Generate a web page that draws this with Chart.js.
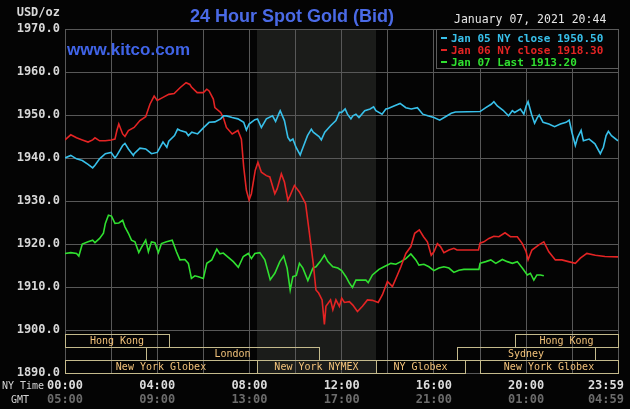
<!DOCTYPE html>
<html>
<head>
<meta charset="utf-8">
<script src="https://cdn.jsdelivr.net/npm/chart.js@4"></script>
<style>
  html, body { margin: 0; padding: 0; background: #040404; }
  canvas { display: block; }
</style>
</head>
<body>
<canvas id="gold-chart" width="630" height="409"></canvas>
<script>
// Data (minutes after midnight NY time, USD/oz)

const jan05Times = [0, 15, 30, 45, 60, 72, 78, 90, 105, 120, 130, 135, 150, 156, 165, 178, 180, 195, 210, 225, 240, 255, 265, 270, 285, 293, 300, 315, 321, 330, 345, 360,
  375, 390, 405, 412, 420, 435, 450, 465, 472, 479, 494, 501, 511, 524, 540, 548, 556, 560, 571, 580, 586, 593, 601, 612, 616, 631, 641, 646, 661, 667, 676, 691, 705, 714,
  720, 729, 735, 744, 749, 757, 765, 780, 794, 803, 809, 825, 835, 841, 856, 872, 887, 901, 917, 931, 944, 960, 975, 990, 1005, 1016, 1080,
  1095, 1109, 1116, 1125, 1140, 1154, 1164, 1170, 1185, 1194, 1200, 1205, 1214, 1222, 1229, 1234, 1244, 1259, 1274, 1289, 1304, 1312, 1319, 1328, 1334, 1343, 1349, 1364, 1379, 1393, 1401, 1408, 1414, 1422, 1439];
const jan05Prices = [1940.0, 1940.6, 1939.8, 1939.4, 1938.5, 1937.7, 1938.3, 1939.8, 1941.0, 1941.3, 1940.0, 1940.6, 1942.9, 1943.4, 1942.1, 1940.6, 1941.0, 1942.3, 1942.1, 1941.0, 1941.3, 1943.7, 1942.5, 1943.9, 1945.2, 1946.7, 1946.4, 1946.0, 1945.2, 1946.0, 1945.6, 1947.0,
  1948.3, 1948.4, 1949.1, 1949.8, 1949.8, 1949.4, 1949.1, 1948.3, 1946.5, 1947.9, 1948.9, 1949.1, 1947.1, 1949.1, 1949.8, 1948.5, 1950.2, 1951.0, 1948.7, 1944.8, 1944.0, 1944.4, 1942.5, 1940.7, 1941.7, 1945.2, 1946.7, 1946.0, 1945.0, 1944.2, 1946.0, 1947.5, 1948.7, 1950.6,
  1950.6, 1951.4, 1950.2, 1949.1, 1949.8, 1950.2, 1949.4, 1951.0, 1951.4, 1951.9, 1951.0, 1950.2, 1951.4, 1951.5, 1952.1, 1952.7, 1951.7, 1951.4, 1951.7, 1950.2, 1949.8, 1949.4, 1948.8, 1949.6, 1950.4, 1950.7, 1950.8,
  1951.7, 1952.5, 1953.1, 1952.1, 1951.1, 1949.8, 1951.0, 1950.6, 1951.4, 1950.2, 1952.1, 1953.1, 1950.2, 1948.1, 1949.4, 1950.0, 1948.3, 1947.9, 1947.3, 1947.9, 1948.3, 1948.8, 1946.0, 1942.9, 1944.8, 1946.4, 1944.0, 1944.4, 1943.3, 1941.0, 1942.5, 1945.2, 1946.2, 1945.2, 1944.0];

const jan06Times = [0, 15, 30, 45, 60, 72, 78, 90, 105, 120, 130, 135, 140, 150, 156, 165, 180, 195, 210, 221, 232, 240, 255, 270, 284, 300, 315, 325, 329, 344, 360,
  369, 375, 386, 390, 405, 412, 420, 435, 450, 459, 465, 472, 479, 485, 495, 502, 511, 524, 533, 546, 552, 563, 571, 580, 586, 597, 610, 626, 636, 646, 653, 660, 669, 675, 679, 691, 697, 705, 714,
  720, 727, 740, 749, 761, 774, 787, 800, 815, 826, 839, 852, 865, 874, 887, 900, 910, 922, 933, 943, 953, 960, 969, 977, 986, 999, 1012, 1020, 1076,
  1080, 1090, 1103, 1116, 1129, 1145, 1159, 1177, 1190, 1200, 1205, 1215, 1233, 1246, 1259, 1276, 1293, 1310, 1328, 1341, 1358, 1380, 1405, 1439];
const jan06Prices = [1944.2, 1945.4, 1944.7, 1944.2, 1943.7, 1944.2, 1944.7, 1944.0, 1944.0, 1944.2, 1944.4, 1946.4, 1947.9, 1945.6, 1945.0, 1946.4, 1947.1, 1948.7, 1949.6, 1952.5, 1954.4, 1953.4, 1954.1, 1954.8, 1955.0, 1956.4, 1957.5, 1957.1, 1956.5, 1955.2, 1955.2,
  1956.0, 1955.6, 1953.7, 1951.7, 1950.6, 1949.4, 1947.1, 1945.6, 1946.4, 1944.4, 1937.9, 1932.5, 1930.2, 1931.7, 1937.1, 1939.0, 1936.7, 1935.9, 1935.6, 1931.7, 1932.8, 1936.3, 1934.4, 1930.2, 1931.3, 1933.6, 1932.1, 1929.4, 1922.5, 1915.5, 1909.3, 1908.6, 1907.0, 1901.3, 1905.5, 1907.0, 1904.7, 1907.0, 1905.5,
  1907.4, 1906.4, 1906.6, 1905.8, 1904.3, 1905.5, 1907.0, 1906.9, 1906.4, 1908.2, 1911.3, 1910.1, 1912.8, 1914.7, 1917.8, 1919.4, 1922.5, 1923.3, 1921.7, 1920.5, 1917.4, 1918.2, 1920.1, 1919.4, 1918.0, 1918.6, 1919.0, 1918.6, 1918.6,
  1920.2, 1920.5, 1921.3, 1921.8, 1921.7, 1922.6, 1921.7, 1921.7, 1920.1, 1918.2, 1916.3, 1918.6, 1919.8, 1920.5, 1918.2, 1916.3, 1916.3, 1915.9, 1915.5, 1916.7, 1917.8, 1917.4, 1917.1, 1917.0];

const jan07Times = [0, 15, 30, 36, 45, 60, 72, 78, 90, 100, 105, 113, 121, 130, 140, 150, 156, 165, 173, 182, 192, 199, 210, 217, 225, 234, 243, 251, 264, 279, 290, 299, 312, 321, 329, 338, 347, 360,
  369, 382, 395, 403, 412, 425, 438, 451, 464, 477, 485, 494, 507, 520, 534, 546, 559, 569, 578, 586, 593, 602, 610, 619, 632, 645, 653, 664, 675, 684, 697, 710,
  720, 731, 740, 748, 757, 770, 783, 789, 800, 817, 830, 848, 861, 874, 887, 900, 913, 921, 934, 947, 960, 973, 986, 999, 1012, 1025, 1038, 1077,
  1080, 1095, 1108, 1121, 1138, 1151, 1164, 1177, 1190, 1203, 1211, 1220, 1228, 1237, 1246];
const jan07Prices = [1917.8, 1918.0, 1917.8, 1917.2, 1920.0, 1920.5, 1920.9, 1920.3, 1921.3, 1922.5, 1924.8, 1926.7, 1926.5, 1924.8, 1924.9, 1925.5, 1924.0, 1922.5, 1920.9, 1920.5, 1918.0, 1919.2, 1920.9, 1918.2, 1920.5, 1920.3, 1918.0, 1920.1, 1920.5, 1920.9, 1918.2, 1916.3, 1916.4, 1915.5, 1912.0, 1912.6, 1912.4, 1912.0,
  1915.5, 1916.3, 1918.8, 1917.7, 1917.9, 1916.9, 1915.9, 1914.6, 1917.1, 1917.8, 1916.6, 1917.8, 1918.0, 1916.3, 1911.7, 1913.2, 1915.9, 1917.2, 1914.4, 1909.3, 1912.4, 1912.7, 1915.5, 1914.4, 1911.5, 1914.4, 1914.7, 1915.9, 1917.4, 1915.9, 1914.7, 1914.4,
  1913.8, 1912.4, 1910.9, 1909.9, 1911.6, 1911.6, 1911.6, 1911.0, 1912.8, 1914.1, 1914.7, 1915.5, 1915.3, 1915.9, 1916.6, 1917.7, 1916.3, 1915.1, 1915.3, 1914.7, 1913.8, 1914.4, 1914.7, 1914.4, 1913.4, 1913.9, 1914.1, 1914.1,
  1915.5, 1915.9, 1916.3, 1915.5, 1916.4, 1915.9, 1915.5, 1915.9, 1914.4, 1912.8, 1913.2, 1911.6, 1912.8, 1912.8, 1912.6];

const legendLabels = ["Jan 05 NY close 1950.50", "Jan 06 NY close 1918.30", "Jan 07 Last 1913.20"];
const xTickMinutes = [0, 120, 240, 360, 480, 600, 720, 840, 960, 1080, 1200, 1320, 1439];
const xLabelMinutes = [0, 240, 480, 720, 960, 1200, 1439];
const gmtOffsetMinutes = 300;

// trading sessions strip at the bottom of the plot
const sessionNames = ["Hong Kong", "Hong Kong", "London", "Sydney", "New York Globex", "New York NYMEX", "NY Globex", "New York Globex"];
const sessionStart = [0, 1170, 210, 1020, 0, 500, 810, 1080];
const sessionEnd = [270, 1439, 660, 1380, 500, 810, 1040, 1439];
const sessionRow = [0, 0, 1, 1, 2, 2, 2, 2];
const nymexOpen = [500, 810];

const titleText = "24 Hour Spot Gold (Bid)";
const stampText = "January 07, 2021 20:44";

const COLORS = ["#38c0ea", "#e42424", "#30e030"];
const MONO = "'DejaVu Sans Mono', monospace";

const toPoints = (times, prices) => times.map((t, i) => ({ x: t, y: prices[i] }));
const hhmm = (m) => {
  m = ((m % 1440) + 1440) % 1440;
  return String(Math.floor(m / 60)).padStart(2, "0") + ":" + String(m % 60).padStart(2, "0");
};

const kitcoDecor = {
  id: "kitcoDecor",
  beforeDraw(chart) {
    const { ctx, chartArea: a, scales: { x } } = chart;
    ctx.save();
    ctx.fillStyle = "#040404";
    ctx.fillRect(0, 0, chart.width, chart.height);
    // NYMEX hours shading
    const x0 = Math.round(x.getPixelForValue(nymexOpen[0]));
    const x1 = Math.round(x.getPixelForValue(nymexOpen[1]));
    ctx.fillStyle = "#1b1c1a";
    ctx.fillRect(x0, a.top, x1 - x0, a.bottom - a.top);
    ctx.restore();
  },
  afterDraw(chart) {
    const { ctx, chartArea: a, scales: { x, y } } = chart;
    ctx.save();

    // sessions
    const rowTops = [1899, 1896, 1893, 1890];
    ctx.strokeStyle = "#c4ba8c";
    ctx.lineWidth = 1;
    ctx.font = "10px " + MONO;
    ctx.textAlign = "center";
    ctx.textBaseline = "middle";
    sessionNames.forEach((name, i) => {
      const r = sessionRow[i];
      const l = Math.round(x.getPixelForValue(sessionStart[i]));
      const rr = Math.round(x.getPixelForValue(sessionEnd[i]));
      const t = Math.round(y.getPixelForValue(rowTops[r]));
      const b = Math.round(y.getPixelForValue(rowTops[r + 1]));
      ctx.strokeRect(l + 0.5, t + 0.5, rr - l, b - t);
      ctx.fillStyle = "#f2c27a";
      ctx.fillText(name, (l + rr) / 2, (t + b) / 2 + 1);
    });

    // legend box
    const lx = a.right - 182, ly = a.top, lh = 39;
    ctx.fillStyle = "#040404";
    ctx.fillRect(lx, ly, a.right - lx, lh);
    ctx.strokeStyle = "#5c5c5c";
    ctx.strokeRect(lx + 0.5, ly + 0.5, a.right - lx, lh);
    ctx.font = "bold 11px " + MONO;
    ctx.textAlign = "left";
    legendLabels.forEach((label, i) => {
      const cy = ly + 9 + i * 12;
      ctx.fillStyle = COLORS[i];
      ctx.fillRect(lx + 5, cy - 1, 6, 2);
      ctx.fillText(label, lx + 15, cy + 1);
    });

    // x labels: NY time and GMT
    ctx.font = "bold 12px " + MONO;
    xLabelMinutes.forEach((m, i) => {
      const px = x.getPixelForValue(m);
      const last = i === xLabelMinutes.length - 1;
      ctx.textAlign = last ? "right" : "center";
      const tx = last ? chart.width - 6 : px;
      ctx.fillStyle = "#dcdcdc";
      ctx.fillText(m === 1439 ? "23:59" : hhmm(m), tx, a.bottom + 13);
      ctx.fillStyle = "#6c6c6c";
      ctx.fillText(hhmm(m + gmtOffsetMinutes), tx, a.bottom + 27);
    });
    ctx.font = "10px " + MONO;
    ctx.fillStyle = "#d4d4d4";
    ctx.textAlign = "left";
    ctx.fillText("NY Time", 2, a.bottom + 13);
    ctx.textAlign = "center";
    ctx.fillText("GMT", 20, a.bottom + 27);

    // header texts
    ctx.textAlign = "right";
    ctx.fillStyle = "#d8d8d8";
    ctx.font = "bold 12px " + MONO;
    ctx.fillText("USD/oz", a.left - 5, 13);

    ctx.textAlign = "left";
    ctx.fillStyle = "#e6e6e6";
    ctx.font = "11.5px " + MONO;
    ctx.fillText(stampText, a.right - 164, 20);

    ctx.textAlign = "center";
    ctx.fillStyle = "#4a6ae6";
    ctx.font = "bold 18px 'Liberation Sans', Arial, sans-serif";
    ctx.fillText(titleText, 292, 17);

    ctx.textAlign = "left";
    ctx.fillStyle = "#4064e8";
    ctx.font = "bold 17px 'Liberation Sans', Arial, sans-serif";
    ctx.fillText("www.kitco.com", a.left + 2, 50);

    ctx.restore();
  },
};

const canvas = document.getElementById("gold-chart");

new Chart(canvas, {
  type: "line",
  data: {
    datasets: [
      { label: legendLabels[0], data: toPoints(jan05Times, jan05Prices), borderColor: COLORS[0] },
      { label: legendLabels[1], data: toPoints(jan06Times, jan06Prices), borderColor: COLORS[1] },
      { label: legendLabels[2], data: toPoints(jan07Times, jan07Prices), borderColor: COLORS[2] },
    ],
  },
  options: {
    responsive: false,
    animation: false,
    devicePixelRatio: 1,
    layout: { padding: { top: 29, right: 12, bottom: 36, left: 0 } },
    elements: {
      line: { borderWidth: 1.6, tension: 0 },
      point: { radius: 0 },
    },
    plugins: {
      legend: { display: false },
      title: { display: false },
      tooltip: { enabled: false },
    },
    scales: {
      x: {
        type: "linear",
        min: 0,
        max: 1439,
        afterBuildTicks: (scale) => {
          scale.ticks = xTickMinutes.map((v) => ({ value: v }));
        },
        afterFit: (scale) => {
          scale.height = 0;
        },
        ticks: { display: false },
        grid: { color: "#585858", drawTicks: false },
        border: { color: "#585858" },
      },
      y: {
        min: 1890,
        max: 1970,
        afterFit: (scale) => {
          scale.width = 65;
        },
        ticks: {
          stepSize: 10,
          padding: 5,
          color: "#d8d8d8",
          font: { family: MONO, size: 12, weight: "bold" },
          callback: (v) => v.toFixed(1),
        },
        grid: { color: "#585858", drawTicks: false },
        border: { color: "#585858" },
      },
    },
  },
  plugins: [kitcoDecor],
});
</script>
</body>
</html>
